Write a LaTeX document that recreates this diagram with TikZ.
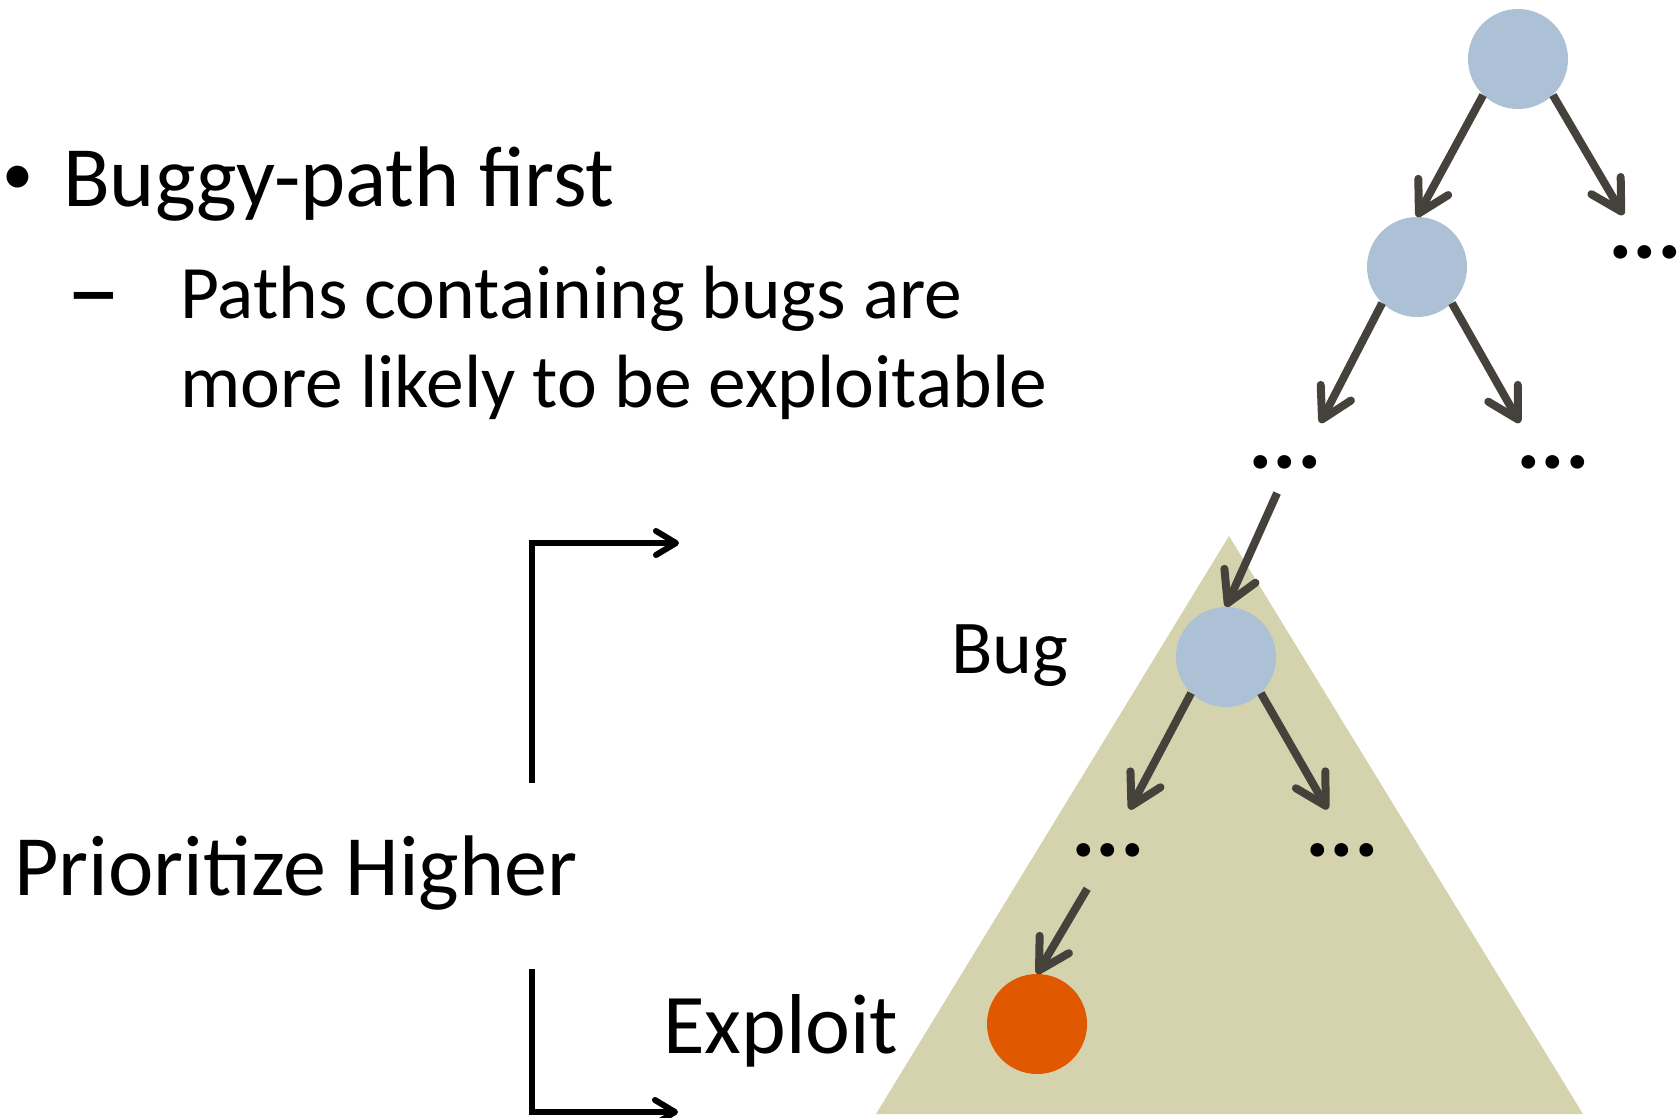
\documentclass[tikz,border=0pt]{standalone}
\usepackage{fontspec}
\setmainfont{Carlito}
\usepackage{xcolor}
\usetikzlibrary{arrows.meta,positioning}
\definecolor{nodeblue}{RGB}{173,193,214}
\definecolor{exploitorange}{RGB}{224,88,0}
\definecolor{edgegray}{RGB}{68,66,58}
\definecolor{subtree}{RGB}{213,211,174}

\begin{document}
\begin{tikzpicture}[x=1pt,y=-1pt]
  \tikzset{state/.style = {shape=circle,minimum size=100pt,inner sep=0pt,fill=nodeblue}}
  \tikzset{exploitstate/.style = {shape=circle,minimum size=100pt,inner sep=0pt,fill=exploitorange}}
  \tikzset{more/.style = {font=\fontsize{92}{100}\selectfont\bfseries,inner sep=0pt}}
  \tikzset{txt/.style = {anchor=base west,inner sep=0pt}}
  \tikzset{edge/.style = {draw=edgegray,line width=8pt,-{Straight Barb[length=30pt,width=34pt,round]}}}
  \tikzset{prio/.style = {draw=black,line width=6pt,-{Straight Barb[length=20pt,width=24pt,round]}}}

  \useasboundingbox (0,0) rectangle (1680,1118);

  % subtree below the bug
  \fill[subtree] (1229,536) -- (1583,1114) -- (876,1114) -- cycle;

  % bullet text
  \node[txt,font=\fontsize{62}{70}\selectfont] (dot) at (2,195) {•};
  \node[txt,font=\fontsize{86}{100}\selectfont] (first) at (63,207) {Buggy-path first};
  \node[txt,font=\fontsize{110}{120}\selectfont] (dash) at (66,326) {–};
  \node[txt,font=\fontsize{75.5}{89}\selectfont] (line1) at (180,318) {Paths containing bugs are};
  \node[txt,font=\fontsize{75.5}{89}\selectfont] (line2) at (180,407) {more likely to be exploitable};
  \node[txt,font=\fontsize{86}{100}\selectfont] (prio) at (14,895) {Prioritize Higher};
  \node[txt,font=\fontsize{76}{90}\selectfont] (buglabel) at (951,673) {Bug};
  \node[txt,font=\fontsize{85}{100}\selectfont] (exploitlabel) at (663,1053) {Exploit};

  % tree
  \node[state] (root) at (1518,59) {};
  \node[state] (B) at (1417,267) {};
  \node[state] (bug) at (1226,657) {};
  \node[exploitstate] (exploit) at (1037,1024) {};

  \node[more] (dotsR) at (1645,252) {...};
  \node[more] (dotsL) at (1285,462) {...};
  \node[more] (dotsM) at (1553,462) {...};
  \node[more] (dotsP) at (1108,850) {...};
  \node[more] (dotsQ) at (1342,850) {...};

  \foreach \from/\to/\dx/\cut in {root.-134/B.north/0pt/0pt, root.-46/dotsR.center/0pt/43pt,
      B.-134/dotsL.center/15pt/44pt, B.-46/dotsM.center/-11pt/45pt,
      bug.-134/dotsP.center/0pt/46pt, bug.-46/dotsQ.center/9pt/47pt}
    \draw[edge,shorten >=\cut] (\from) -- ([xshift=\dx]\to);

  \foreach \from/\dx/\to/\cut in {dotsL/6pt/bug/34pt, dotsP/2pt/exploit/45pt}
    \draw[edge,shorten <=\cut] ([xshift=\dx]\from.center) -- (\to.north);

  % prioritize arrows
  \coordinate (upfrom) at (532,783);
  \coordinate (upto) at (679,543);
  \coordinate (downfrom) at (532,969);
  \coordinate (downto) at (678,1112);
  \draw[prio] (upfrom) |- (upto);
  \draw[prio] (downfrom) |- (downto);
\end{tikzpicture}
\end{document}
